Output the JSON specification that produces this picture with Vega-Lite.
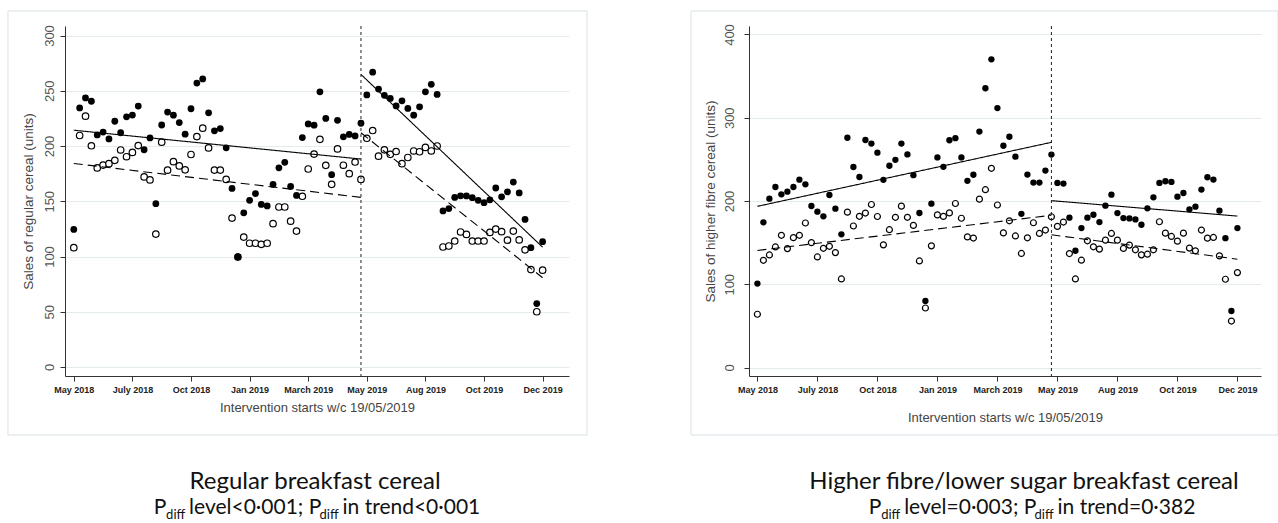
{
  "$schema": "https://vega.github.io/schema/vega-lite/v6.json",
  "background": "white",
  "padding": {"left": 7, "top": 10, "right": 1, "bottom": 2},
  "bounds": "flush",
  "spacing": 180,
  "config": {
    "view": {"stroke": null},
    "axis": {"labelFont": "Liberation Sans", "titleFont": "Liberation Sans", "domainColor": "#333", "tickColor": "#333", "tickSize": 5, "titleFontWeight": "normal", "titleColor": "#444"},
    "text": {"font": "Lato", "color": "#111"}
  },
  "datasets": {
    "reg": [
      {"w":0,"a":124.5,"b":108},{"w":1,"a":234.5,"b":209.5},{"w":2,"a":243.5,"b":227},{"w":3,"a":240.5,"b":200.2},{"w":4,"a":210,"b":180.2},
      {"w":5,"a":212.6,"b":182.7},{"w":6,"a":206.4,"b":184},{"w":7,"a":222.4,"b":187},{"w":8,"a":212,"b":196.4},{"w":9,"a":226.4,"b":190.3},
      {"w":10,"a":228,"b":194.2},{"w":11,"a":236.1,"b":200.4},{"w":12,"a":196.6,"b":172},{"w":13,"a":207.3,"b":169.3},{"w":14,"a":147.8,"b":120.3},
      {"w":15,"a":219,"b":203.5},{"w":16,"a":230.7,"b":178.1},{"w":17,"a":227.9,"b":185.8},{"w":18,"a":221.2,"b":182},{"w":19,"a":210.7,"b":178.4},
      {"w":20,"a":233.7,"b":192.3},{"w":21,"a":257,"b":208.5},{"w":22,"a":260.7,"b":216.1},{"w":23,"a":230,"b":198.3},{"w":24,"a":213.7,"b":178.2},
      {"w":25,"a":215.8,"b":178.2},{"w":26,"a":198.4,"b":169.8},{"w":27,"a":161.6,"b":134.8},{"w":28,"a":99.8,"b":99.5},{"w":29,"a":139.5,"b":117.6},
      {"w":30,"a":150.8,"b":112},{"w":31,"a":157,"b":112},{"w":32,"a":147.1,"b":111},{"w":33,"a":145.8,"b":112},{"w":34,"a":165.2,"b":129.7},
      {"w":35,"a":180.3,"b":144.8},{"w":36,"a":185.2,"b":144.8},{"w":37,"a":163.4,"b":132},{"w":38,"a":155.3,"b":123},{"w":39,"a":207.6,"b":154.5},
      {"w":40,"a":220,"b":179.2},{"w":41,"a":218.8,"b":192.7},{"w":42,"a":249,"b":206},{"w":43,"a":225,"b":182.5},{"w":44,"a":174,"b":165.3},
      {"w":45,"a":223.2,"b":197.4},{"w":46,"a":208.3,"b":182.6},{"w":47,"a":210.5,"b":175},{"w":48,"a":209.1,"b":185.5},{"w":49,"a":220.6,"b":169.8},
      {"w":50,"a":246.2,"b":207},{"w":51,"a":266.8,"b":214},{"w":52,"a":251.5,"b":190.8},{"w":53,"a":245.9,"b":196.5},{"w":54,"a":243.1,"b":192.5},
      {"w":55,"a":236.3,"b":195},{"w":56,"a":240.9,"b":184},{"w":57,"a":234,"b":189.6},{"w":58,"a":227.9,"b":195.5},{"w":59,"a":235.5,"b":194.8},
      {"w":60,"a":249,"b":198.7},{"w":61,"a":255.8,"b":195.5},{"w":62,"a":246.7,"b":200},{"w":63,"a":141.2,"b":108.6},{"w":64,"a":143.4,"b":109.5},
      {"w":65,"a":153.5,"b":114},{"w":66,"a":154.9,"b":122.2},{"w":67,"a":154.8,"b":120},{"w":68,"a":153.2,"b":114},{"w":69,"a":150.8,"b":114},
      {"w":70,"a":148.7,"b":114},{"w":71,"a":151.3,"b":121.8},{"w":72,"a":162,"b":124.8},{"w":73,"a":154,"b":122.5},{"w":74,"a":158.5,"b":114.8},
      {"w":75,"a":167.4,"b":123},{"w":76,"a":157.5,"b":115},{"w":77,"a":133.6,"b":106},{"w":78,"a":108,"b":88.2},{"w":79,"a":57.4,"b":50},
      {"w":80,"a":113.4,"b":87.6}
    ],
    "fib": [
      {"w":0,"a":100.8,"b":64},{"w":1,"a":174.4,"b":128.8},{"w":2,"a":202.8,"b":135.2},{"w":3,"a":216.8,"b":144.8},{"w":4,"a":208,"b":158.8},
      {"w":5,"a":211.2,"b":142.8},{"w":6,"a":216.8,"b":156},{"w":7,"a":225.6,"b":158.8},{"w":8,"a":220,"b":173.6},{"w":9,"a":194,"b":150},
      {"w":10,"a":187.2,"b":132.8},{"w":11,"a":181.6,"b":143.2},{"w":12,"a":207.2,"b":145.6},{"w":13,"a":190.8,"b":138},{"w":14,"a":160,"b":106.4},
      {"w":15,"a":276,"b":186.6},{"w":16,"a":240.8,"b":170},{"w":17,"a":228.8,"b":181.6},{"w":18,"a":273.3,"b":185.5},{"w":19,"a":269,"b":195.8},
      {"w":20,"a":258,"b":181.4},{"w":21,"a":225.4,"b":147.3},{"w":22,"a":242.3,"b":165.5},{"w":23,"a":249.5,"b":180.4},{"w":24,"a":269,"b":193.8},
      {"w":25,"a":255.9,"b":180.4},{"w":26,"a":231,"b":170.7},{"w":27,"a":185.6,"b":128},{"w":28,"a":80,"b":71.5},{"w":29,"a":196.8,"b":146.1},
      {"w":30,"a":252.3,"b":183.3},{"w":31,"a":241,"b":181.5},{"w":32,"a":273,"b":185.7},{"w":33,"a":275.5,"b":197},{"w":34,"a":252.3,"b":179.3},
      {"w":35,"a":224.2,"b":156.9},{"w":36,"a":231.5,"b":155.5},{"w":37,"a":283.4,"b":202.2},{"w":38,"a":335.4,"b":213.6},{"w":39,"a":370.2,"b":239.3},
      {"w":40,"a":311.6,"b":195.2},{"w":41,"a":266.4,"b":161.7},{"w":42,"a":277.2,"b":176.2},{"w":43,"a":253.3,"b":158},{"w":44,"a":184.6,"b":137},
      {"w":45,"a":231.7,"b":155.8},{"w":46,"a":222.1,"b":173.9},{"w":47,"a":222.1,"b":161},{"w":48,"a":236.5,"b":165.1},{"w":49,"a":255.8,"b":181.1},
      {"w":50,"a":221.7,"b":169.5},{"w":51,"a":220.9,"b":174.7},{"w":52,"a":180,"b":136.9},{"w":53,"a":140.2,"b":106.4},{"w":54,"a":167.5,"b":128.9},
      {"w":55,"a":180,"b":152.2},{"w":56,"a":183.5,"b":145},{"w":57,"a":174.7,"b":142.2},{"w":58,"a":194.4,"b":153},{"w":59,"a":207.6,"b":161},
      {"w":60,"a":185.5,"b":153},{"w":61,"a":179.5,"b":143},{"w":62,"a":179.1,"b":147},{"w":63,"a":177.9,"b":141.4},{"w":64,"a":171.5,"b":135.3},
      {"w":65,"a":191.2,"b":136.1},{"w":66,"a":204.4,"b":141.4},{"w":67,"a":221.7,"b":175.1},{"w":68,"a":223.7,"b":161.4},{"w":69,"a":222.9,"b":157.4},
      {"w":70,"a":205.2,"b":151.8},{"w":71,"a":209.6,"b":161.4},{"w":72,"a":190,"b":143.4},{"w":73,"a":193.2,"b":140.2},{"w":74,"a":213.7,"b":165.1},
      {"w":75,"a":228.5,"b":155.4},{"w":76,"a":225.7,"b":156.2},{"w":77,"a":188.4,"b":134.1},{"w":78,"a":155.4,"b":106},{"w":79,"a":67.9,"b":55.8},
      {"w":80,"a":167.5,"b":114}
    ],
    "regfit": [
      {"s":"pre","k":"f","w":0,"v":214.3},{"s":"pre","k":"f","w":49,"v":188.2},
      {"s":"pre","k":"h","w":0,"v":184.2},{"s":"pre","k":"h","w":49,"v":153.5},
      {"s":"post","k":"f","w":49,"v":264.8},{"s":"post","k":"f","w":80,"v":108.4},
      {"s":"post","k":"h","w":49,"v":212},{"s":"post","k":"h","w":80,"v":80.8}
    ],
    "fibfit": [
      {"s":"pre","k":"f","w":0,"v":193.6},{"s":"pre","k":"f","w":49,"v":270.5},
      {"s":"pre","k":"h","w":0,"v":140.6},{"s":"pre","k":"h","w":49,"v":182.8},
      {"s":"post","k":"f","w":49,"v":200.4},{"s":"post","k":"f","w":80,"v":181.9},
      {"s":"post","k":"h","w":49,"v":159.4},{"s":"post","k":"h","w":80,"v":130.1}
    ],
    "one": [{}]
  },
  "hconcat": [
    {
      "width": 504,
      "height": 350,
      "layer": [
        {
          "data": {"name": "reg"},
          "mark": {"type": "circle", "size": 42, "fill": "white", "stroke": "black", "strokeWidth": 1.2, "opacity": 1},
          "encoding": {
            "x": {"field": "w", "type": "quantitative", "scale": {"domain": [-1.5, 84.5], "nice": false, "zero": false},
              "axis": {"values": [0,10,20,30,40,50,60,70,80], "labelExpr": "['May 2018','July 2018','Oct 2018','Jan 2019','March 2019','May 2019','Aug 2019','Oct 2019','Dec 2019'][round(datum.value/10)]",
                "title": "Intervention starts w/c 19/05/2019", "titleFontSize": 13, "titlePadding": 7, "grid": false,
                "labelFontSize": 9, "labelFontWeight": "bold", "labelColor": "#222", "labelPadding": 4, "labelFlush": false, "labelOverlap": false}},
            "y": {"field": "b", "type": "quantitative", "scale": {"domain": [-8.14, 308.6], "nice": false, "zero": false},
              "axis": {"values": [0,50,100,150,200,250,300], "title": "Sales of regular cereal (units)", "titleFontSize": 13.5, "titlePadding": 7.5,
                "labelAngle": 270, "labelAlign": "center", "labelBaseline": "bottom", "labelFontSize": 13, "labelColor": "#555", "labelPadding": 4,
                "grid": true, "gridColor": "#e3ebeb"}}
          }
        },
        {
          "data": {"name": "one"},
          "mark": {"type": "rect", "fill": "transparent", "stroke": "#d8e1e4", "strokeWidth": 1},
          "encoding": {
            "x": {"datum": -11.23},
            "x2": {"datum": 87.58},
            "y": {"datum": 322.2},
            "y2": {"datum": -61.5}
          }
        },
        {
          "data": {"name": "reg"},
          "mark": {"type": "circle", "size": 46, "color": "black", "opacity": 1},
          "encoding": {
            "x": {"field": "w", "type": "quantitative"},
            "y": {"field": "a", "type": "quantitative"}
          }
        },
        {
          "data": {"name": "regfit"},
          "mark": {"type": "line", "color": "black", "strokeWidth": 1.1},
          "encoding": {
            "x": {"field": "w", "type": "quantitative"},
            "y": {"field": "v", "type": "quantitative"},
            "detail": {"field": "s"},
            "strokeDash": {"field": "k", "type": "nominal", "scale": {"domain": ["f", "h"], "range": [[1, 0], [9, 5]]}, "legend": null}
          }
        },
        {
          "data": {"name": "one"},
          "mark": {"type": "rule", "color": "#222", "strokeWidth": 1, "strokeDash": [3, 3]},
          "encoding": {"x": {"datum": 49}}
        },
        {
          "data": {"name": "one"},
          "mark": {"type": "text", "text": "Regular breakfast cereal", "fontSize": 24, "align": "center", "baseline": "middle"},
          "encoding": {"x": {"datum": 41.16}, "y": {"datum": -104.1}}
        },
        {
          "data": {"name": "one"},
          "mark": {"type": "text", "text": "P", "fontSize": 21, "align": "left", "baseline": "middle", "dx": -163.2},
          "encoding": {"x": {"datum": 41.5}, "y": {"datum": -127.6}}
        },
        {
          "data": {"name": "one"},
          "mark": {"type": "text", "text": "diff", "fontSize": 13, "align": "left", "baseline": "middle", "dx": -150.9, "dy": 7},
          "encoding": {"x": {"datum": 41.5}, "y": {"datum": -127.6}}
        },
        {
          "data": {"name": "one"},
          "mark": {"type": "text", "text": "level<0·001; P", "fontSize": 21, "align": "left", "baseline": "middle", "dx": -127.9},
          "encoding": {"x": {"datum": 41.5}, "y": {"datum": -127.6}}
        },
        {
          "data": {"name": "one"},
          "mark": {"type": "text", "text": "diff", "fontSize": 13, "align": "left", "baseline": "middle", "dx": 2.5, "dy": 7},
          "encoding": {"x": {"datum": 41.5}, "y": {"datum": -127.6}}
        },
        {
          "data": {"name": "one"},
          "mark": {"type": "text", "text": "in trend<0·001", "fontSize": 21, "align": "left", "baseline": "middle", "dx": 25.5},
          "encoding": {"x": {"datum": 41.5}, "y": {"datum": -127.6}}
        }
      ]
    },
    {
      "width": 512,
      "height": 350,
      "layer": [
        {
          "data": {"name": "fib"},
          "mark": {"type": "circle", "size": 36, "fill": "white", "stroke": "black", "strokeWidth": 1.2, "opacity": 1},
          "encoding": {
            "x": {"field": "w", "type": "quantitative", "scale": {"domain": [-1.4, 83.93], "nice": false, "zero": false},
              "axis": {"values": [0,10,20,30,40,50,60,70,80], "labelExpr": "['May 2018','July 2018','Oct 2018','Jan 2019','March 2019','May 2019','Aug 2019','Oct 2019','Dec 2019'][round(datum.value/10)]",
                "title": "Intervention starts w/c 19/05/2019", "titleFontSize": 13, "titlePadding": 17, "grid": false,
                "labelFontSize": 9, "labelFontWeight": "bold", "labelColor": "#222", "labelPadding": 4, "labelFlush": false, "labelOverlap": false}},
            "y": {"field": "b", "type": "quantitative", "scale": {"domain": [-10.2, 410.2], "nice": false, "zero": false},
              "axis": {"values": [0,100,200,300,400], "title": "Sales of higher fibre cereal (units)", "titleFontSize": 13.5, "titlePadding": 6,
                "labelAngle": 270, "labelAlign": "center", "labelBaseline": "bottom", "labelFontSize": 13, "labelColor": "#555", "labelPadding": 8,
                "grid": true, "gridColor": "#e3ebeb"}}
          }
        },
        {
          "data": {"name": "one"},
          "mark": {"type": "rect", "fill": "transparent", "stroke": "#d8e1e4", "strokeWidth": 1},
          "encoding": {
            "x": {"datum": -11.07},
            "x2": {"datum": 86.77},
            "y": {"datum": 428.2},
            "y2": {"datum": -81.1}
          }
        },
        {
          "data": {"name": "fib"},
          "mark": {"type": "circle", "size": 40, "color": "black", "opacity": 1},
          "encoding": {
            "x": {"field": "w", "type": "quantitative"},
            "y": {"field": "a", "type": "quantitative"}
          }
        },
        {
          "data": {"name": "fibfit"},
          "mark": {"type": "line", "color": "black", "strokeWidth": 1.1},
          "encoding": {
            "x": {"field": "w", "type": "quantitative"},
            "y": {"field": "v", "type": "quantitative"},
            "detail": {"field": "s"},
            "strokeDash": {"field": "k", "type": "nominal", "scale": {"domain": ["f", "h"], "range": [[1, 0], [9, 5]]}, "legend": null}
          }
        },
        {
          "data": {"name": "one"},
          "mark": {"type": "rule", "color": "#222", "strokeWidth": 1, "strokeDash": [3, 3]},
          "encoding": {"x": {"datum": 49}}
        },
        {
          "data": {"name": "one"},
          "mark": {"type": "text", "text": "Higher fibre/lower sugar breakfast cereal", "fontSize": 24, "align": "center", "baseline": "middle"},
          "encoding": {"x": {"datum": 44.43}, "y": {"datum": -137.5}}
        },
        {
          "data": {"name": "one"},
          "mark": {"type": "text", "text": "P", "fontSize": 21, "align": "left", "baseline": "middle", "dx": -163.2},
          "encoding": {"x": {"datum": 45.77}, "y": {"datum": -168.7}}
        },
        {
          "data": {"name": "one"},
          "mark": {"type": "text", "text": "diff", "fontSize": 13, "align": "left", "baseline": "middle", "dx": -150.9, "dy": 7},
          "encoding": {"x": {"datum": 45.77}, "y": {"datum": -168.7}}
        },
        {
          "data": {"name": "one"},
          "mark": {"type": "text", "text": "level=0·003; P", "fontSize": 21, "align": "left", "baseline": "middle", "dx": -127.9},
          "encoding": {"x": {"datum": 45.77}, "y": {"datum": -168.7}}
        },
        {
          "data": {"name": "one"},
          "mark": {"type": "text", "text": "diff", "fontSize": 13, "align": "left", "baseline": "middle", "dx": 2.5, "dy": 7},
          "encoding": {"x": {"datum": 45.77}, "y": {"datum": -168.7}}
        },
        {
          "data": {"name": "one"},
          "mark": {"type": "text", "text": "in trend=0·382", "fontSize": 21, "align": "left", "baseline": "middle", "dx": 25.5},
          "encoding": {"x": {"datum": 45.77}, "y": {"datum": -168.7}}
        }
      ]
    }
  ]
}
